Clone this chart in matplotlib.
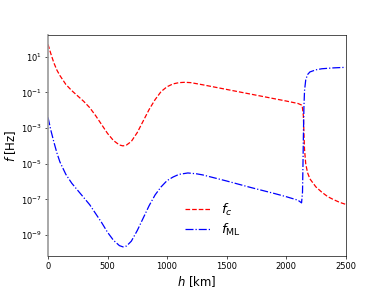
import matplotlib
matplotlib.use("Agg")
import matplotlib.pyplot as plt
import numpy as np

h_c = [0, 25, 50, 75, 100, 150, 200, 250, 300, 350, 400, 450, 500, 550, 600, 630, 660, 700, 750,
       800, 850, 900, 950, 1000, 1050, 1100, 1150, 1200, 1300, 1400, 1500, 1600, 1700, 1800, 1900,
       2000, 2100, 2135, 2145, 2150, 2155, 2165, 2180, 2200, 2250, 2300, 2350, 2400, 2450, 2500]
logf_c = [1.7, 1.15, 0.65, 0.25, -0.05, -0.55, -0.9, -1.2, -1.5, -1.85, -2.3, -2.8, -3.3, -3.7, -3.95, -4.0,
          -3.95, -3.75, -3.25, -2.6, -1.95, -1.4, -0.95, -0.68, -0.52, -0.45, -0.43, -0.45, -0.57, -0.7,
          -0.83, -0.96, -1.09, -1.22, -1.35, -1.48, -1.62, -1.72, -2.3, -3.3, -4.2, -5.0, -5.5, -5.85,
          -6.3, -6.6, -6.85, -7.02, -7.17, -7.28]

h_ml = [0, 25, 50, 75, 100, 150, 200, 250, 300, 350, 400, 450, 500, 550, 600, 630, 660, 700, 750,
        800, 850, 900, 950, 1000, 1050, 1100, 1175, 1250, 1300, 1400, 1500, 1600, 1700, 1800, 1900,
        2000, 2100, 2130, 2138, 2142, 2146, 2150, 2155, 2165, 2180, 2200, 2250, 2300, 2400, 2500]
logf_ml = [-2.4, -3.15, -3.8, -4.4, -4.9, -5.6, -6.1, -6.5, -6.9, -7.3, -7.8, -8.3, -8.85, -9.3, -9.6, -9.67,
           -9.62, -9.35, -8.75, -8.05, -7.35, -6.75, -6.3, -5.95, -5.75, -5.6, -5.52, -5.57, -5.63, -5.8,
           -5.97, -6.15, -6.33, -6.5, -6.67, -6.85, -7.05, -7.2, -6.6, -5.0, -3.2, -1.8, -0.9, -0.3,
           0.0, 0.15, 0.27, 0.33, 0.38, 0.41]

fig = plt.figure(figsize=(6.4, 4.8), dpi=60)
ax = fig.add_subplot(111)
ax.semilogy(h_c, 10.0 ** np.array(logf_c), 'r--', lw=1.5, label=r'$f_c$')
ax.semilogy(h_ml, 10.0 ** np.array(logf_ml), 'b-.', lw=1.5, label=r'$f_{\rm ML}$')
ax.set_xlim(0, 2500)
ax.set_ylim(10 ** -10.2, 10 ** 2.25)
ax.set_yticks([1e1, 1e-1, 1e-3, 1e-5, 1e-7, 1e-9])
ax.yaxis.set_minor_locator(matplotlib.ticker.NullLocator())
ax.set_xticks([0, 500, 1000, 1500, 2000, 2500])
ax.tick_params(labelsize=10)
ax.set_xlabel(r'$h$ [km]', fontsize=14)
ax.set_ylabel(r'$f$ [Hz]', fontsize=14)
ax.spines['left'].set_color('0.6')
ax.spines['left'].set_linewidth(2)
ax.legend(loc='lower left', bbox_to_anchor=(0.42, 0.03), frameon=False, fontsize=16,
          handlelength=1.9, labelspacing=0.3)
fig.savefig('out.png', dpi=60)
